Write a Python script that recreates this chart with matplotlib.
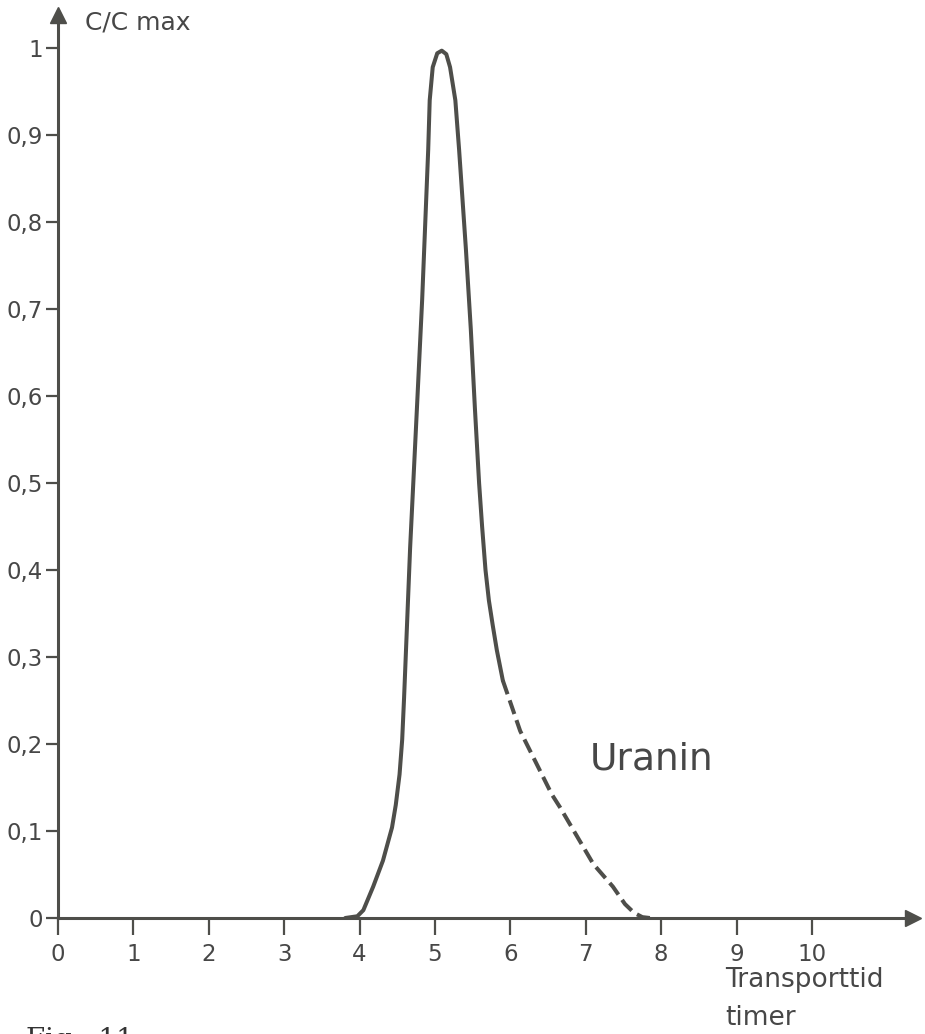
import numpy as np
import matplotlib
matplotlib.use("Agg")
import matplotlib.pyplot as plt

# Uranin breakthrough curve, relative concentration against transport time (hours)
t_solid = [3.81, 3.97, 4.05, 4.18, 4.31, 4.43, 4.48, 4.53, 4.565, 4.59, 4.67, 4.76,
           4.83, 4.91, 4.93, 4.97, 5.03, 5.09, 5.15, 5.20, 5.27, 5.32, 5.41, 5.475,
           5.53, 5.585, 5.625, 5.67, 5.715, 5.765, 5.82, 5.90]
c_solid = [0.000, 0.002, 0.009, 0.036, 0.066, 0.104, 0.130, 0.165, 0.205, 0.253, 0.425, 0.585,
           0.711, 0.883, 0.940, 0.978, 0.994, 0.997, 0.993, 0.978, 0.940, 0.883, 0.769, 0.677,
           0.585, 0.500, 0.450, 0.400, 0.365, 0.337, 0.308, 0.273]

t_dashed = [5.90, 6.13, 6.55, 6.66, 7.10, 7.36, 7.52, 7.64, 7.75, 7.85]
c_dashed = [0.273, 0.215, 0.142, 0.127, 0.062, 0.036, 0.016, 0.006, 0.001, 0.000]

x_ticks = [0, 1, 2, 3, 4, 5, 6, 7, 8, 9, 10]
y_ticks = [0, 0.1, 0.2, 0.3, 0.4, 0.5, 0.6, 0.7, 0.8, 0.9, 1]
y_labels = ["0", "0,1", "0,2", "0,3", "0,4", "0,5", "0,6", "0,7", "0,8", "0,9", "1"]

ink = "#4e4e4a"
text_ink = "#474747"

fig = plt.figure(figsize=(9.25, 10.34), dpi=100)
ax = fig.add_axes([58 / 925, 116 / 1034, 855 / 925, 903 / 1034])
ax.set_xlim(0, 11.34)
ax.set_ylim(0, 1.038)

for side in ("top", "right"):
    ax.spines[side].set_visible(False)
for side in ("left", "bottom"):
    ax.spines[side].set_color(ink)
    ax.spines[side].set_linewidth(2.2)

# arrow heads on the axes
ax.plot(1, 0, ">", color=ink, ms=12, transform=ax.get_yaxis_transform(), clip_on=False)
ax.plot(0, 1, "^", color=ink, ms=12, transform=ax.get_xaxis_transform(), clip_on=False)

ax.set_xticks(x_ticks)
ax.set_xticklabels([str(v) for v in x_ticks])
ax.set_yticks(y_ticks)
ax.set_yticklabels(y_labels)
ax.tick_params(axis="x", direction="out", length=12, width=1.6, color=ink,
               labelsize=16.5, labelcolor=text_ink, pad=6)
ax.tick_params(axis="y", direction="out", length=9, width=1.6, color=ink,
               labelsize=16.5, labelcolor=text_ink, pad=2)

ax.plot(t_solid, c_solid, color=ink, lw=2.9, solid_joinstyle="round",
        solid_capstyle="round", clip_on=False)
ax.plot(t_dashed, c_dashed, color=ink, lw=2.9, linestyle=(0, (3.6, 1.6)),
        clip_on=False)

ax.text(7.05, 0.182, "Uranin", fontsize=27, color=text_ink, va="center", ha="left")

fig.text(85 / 925, 1 - 22 / 1034, "C/C max", fontsize=18, color=text_ink,
         va="center", ha="left")
fig.text(725 / 925, 1 - 980 / 1034, "Transporttid", fontsize=19, color=text_ink,
         va="center", ha="left")
fig.text(725 / 925, 1 - 1018 / 1034, "timer", fontsize=19, color=text_ink,
         va="center", ha="left")
fig.text(26 / 925, 1 - 1027 / 1034, "Fig.  11", fontsize=20, color="#333333",
         family="DejaVu Serif", va="top", ha="left")

fig.savefig("out.png", dpi=100, facecolor="white")
